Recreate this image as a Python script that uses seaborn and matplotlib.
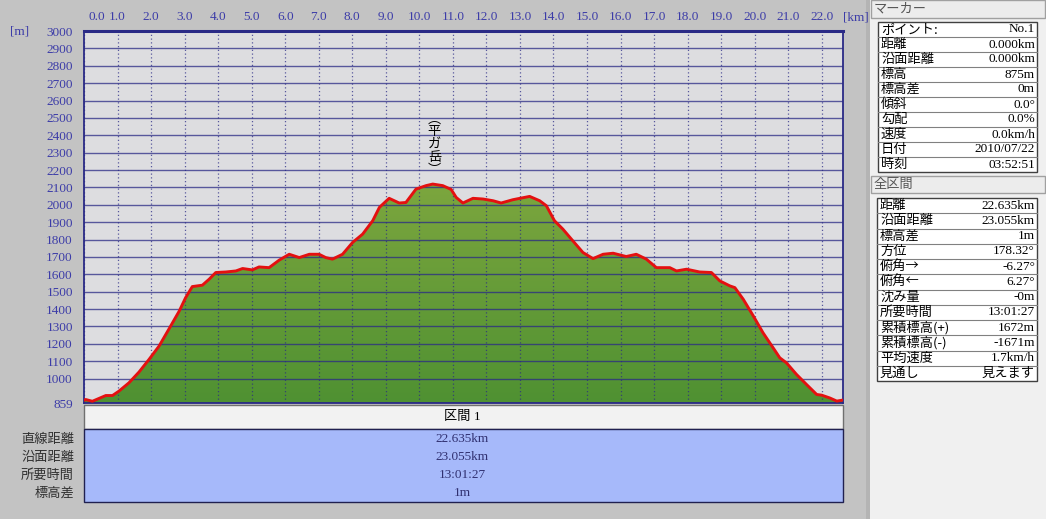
import numpy as np
import matplotlib
matplotlib.use("Agg")
import matplotlib.pyplot as plt
import seaborn as sns
from matplotlib.colors import LinearSegmentedColormap
from matplotlib.patches import Polygon, Rectangle
from matplotlib.transforms import ScaledTranslation

# elevation profile (km, m)
km = [0.0, 0.05, 0.25, 0.65, 0.85, 1.04, 1.34, 1.64, 1.94, 2.24, 2.54, 2.84, 3.03, 3.23,
      3.53, 3.73, 3.93, 4.23, 4.53, 4.73, 5.02, 5.22, 5.52, 5.82, 6.12, 6.42, 6.72, 7.01,
      7.21, 7.41, 7.71, 8.01, 8.31, 8.61, 8.81, 9.10, 9.40, 9.60, 9.90, 10.20, 10.40,
      10.70, 10.95, 11.10, 11.30, 11.60, 11.90, 12.20, 12.44, 12.79, 13.29, 13.59, 13.79,
      14.03, 14.28, 14.58, 14.88, 15.18, 15.48, 15.78, 16.17, 16.47, 16.77, 17.07, 17.47,
      17.67, 17.97, 18.36, 18.71, 18.96, 19.26, 19.41, 19.66, 19.96, 20.25, 20.55, 20.75,
      20.95, 21.25, 21.55, 21.85, 22.00, 22.24, 22.45, 22.635]
elev = [875, 879, 869, 902, 902, 927, 975, 1037, 1110, 1187, 1287, 1388, 1465, 1529,
        1537, 1571, 1610, 1613, 1619, 1633, 1625, 1642, 1638, 1681, 1715, 1696, 1715, 1715,
        1696, 1687, 1715, 1783, 1831, 1908, 1985, 2037, 2010, 2013, 2090, 2110, 2119,
        2110, 2088, 2042, 2010, 2037, 2033, 2023, 2010, 2029, 2048, 2023, 1994,
        1908, 1860, 1792, 1725, 1690, 1715, 1721, 1702, 1715, 1687, 1638, 1638,
        1619, 1629, 1613, 1610, 1562, 1533, 1523, 1456, 1360, 1263, 1177, 1119,
        1090, 1023, 965, 908, 904, 888, 870, 876]

x_ticks = list(range(0, 23))
y_ticks = [859] + list(range(1000, 3001, 100))
y_min, y_max = 859, 3000
peak_name = "︵\n平\nガ\n岳\n︶"

marker_labels = ["ポイント:", "距離", "沿面距離", "標高", "標高差", "傾斜", "勾配", "速度", "日付", "時刻"]
marker_values = ["No.1", "0.000km", "0.000km", "875m", "0m", "0.0°", "0.0%", "0.0km/h",
                 "2010/07/22", "03:52:51"]
total_labels = ["距離", "沿面距離", "標高差", "方位", "俯角→", "俯角←", "沈み量", "所要時間",
                "累積標高(+)", "累積標高(-)", "平均速度", "見通し"]
total_values = ["22.635km", "23.055km", "1m", "178.32°", "-6.27°", "6.27°", "-0m", "13:01:27",
                "1672m", "-1671m", "1.7km/h", "見えます"]
section_title = "区間 1"
section_labels = ["直線距離", "沿面距離", "所要時間", "標高差"]
section_values = ["22.635km", "23.055km", "13:01:27", "1m"]

plt.rcParams['font.family'] = ['Noto Sans CJK JP', 'DejaVu Sans']
NUM = ['Liberation Serif', 'Noto Sans CJK JP']
TICK_C = '#3c3ca8'
NAVY = '#2a2a86'

W, H = 1046, 519
fig = plt.figure(figsize=(W / 100, H / 100), dpi=100)
fig.patch.set_facecolor('#c3c3c3')

def px_box(l, t, r, b):
    return [l / W, 1 - b / H, (r - l) / W, (b - t) / H]

# overlay in pixel coordinates for the panels (drawn underneath)
ov = fig.add_axes([0, 0, 1, 1])
ov.set_xlim(0, W)
ov.set_ylim(H, 0)
ov.axis('off')

ax = fig.add_axes(px_box(84, 31, 843, 403))
ax.set_facecolor('#dddde0')

# green gradient area under the profile
verts = list(zip(km, elev)) + [(km[-1], y_min), (km[0], y_min)]
clip = Polygon(verts, closed=True, fc='none', ec='none', transform=ax.transData)
ax.add_patch(clip)
cmap = LinearSegmentedColormap.from_list('g', ['#4f9132', '#7ca63e'])
img = ax.imshow(np.linspace(0, 1, 256).reshape(-1, 1), cmap=cmap, aspect='auto',
                origin='lower', extent=[km[0], km[-1], y_min, max(elev)], zorder=1)
img.set_clip_path(clip)

sns.lineplot(x=km, y=elev, ax=ax, color='#e41010', linewidth=2.1, sort=False, zorder=4)

ax.set_xlim(km[0], km[-1])
ax.set_ylim(y_min, y_max)
ax.set_xlabel("")
ax.set_ylabel("")
ax.xaxis.tick_top()
ax.set_xticks(x_ticks)
ax.set_xticklabels([f"{v:.1f}" for v in x_ticks])
ax.set_yticks(y_ticks)
ax.set_yticklabels([str(v) for v in y_ticks])
ax.tick_params(length=0, colors=TICK_C, labelsize=9.5)
ax.tick_params(axis='x', pad=6)
ax.tick_params(axis='y', pad=8)
for lab in ax.get_xticklabels() + ax.get_yticklabels():
    lab.set_family(NUM)
first = ax.get_xticklabels()[0]
first.set_transform(first.get_transform() + ScaledTranslation(0.13, 0, fig.dpi_scale_trans))

ax.set_axisbelow(False)
ax.grid(axis='y', color=NAVY, linestyle='-', linewidth=1.0, alpha=0.75)
ax.grid(axis='x', color=NAVY, linestyle=(0, (1, 2)), linewidth=0.9, alpha=0.75)
for s in ax.spines.values():
    s.set_color(NAVY)
    s.set_linewidth(1.3)
ax.spines['top'].set_linewidth(2.2)

imax = int(np.argmax(elev))
ax.text(km[imax] + 0.05, elev[imax] + 228, peak_name, ha='center', va='center', fontsize=9.5,
        linespacing=0.98, color='black', zorder=5)

ov.text(10, 32, "[m]", color=TICK_C, fontsize=9.5, family=NUM, va='center')
ov.text(843, 17, "[km]", color=TICK_C, fontsize=9.5, family=NUM, va='center')

# bottom section
ov.add_patch(Rectangle((84, 405), 759, 24, fc='#f2f2f2', ec='#707070', lw=1))
ov.text(462, 417, section_title, ha='center', va='center', fontsize=9.5, family=NUM)
ov.add_patch(Rectangle((84, 429), 759, 73, fc='#a6b9fa', ec='#202050', lw=1))
for i, (lab, val) in enumerate(zip(section_labels, section_values)):
    y = 439 + i * 18
    ov.text(74, y, lab, ha='right', va='center', fontsize=9.5, color='#303030')
    ov.text(462, y, val, ha='center', va='center', fontsize=9.5, family=NUM, color='#303070')

# right side panel
ov.add_patch(Rectangle((866, 0), 4, H, fc='#b4b4b4', ec='none'))
ov.add_patch(Rectangle((870, 0), W - 870, H, fc='#f0f0f0', ec='none'))

def header(y0, y1, text):
    ov.add_patch(Rectangle((871, y0), W - 872, y1 - y0, fc='#ececec', ec='#a0a0a0', lw=1))
    ov.text(874, (y0 + y1) / 2, text, ha='left', va='center', fontsize=9.5, color='#555555')

def table(x0, x1, y0, y1, labels, values):
    n = len(labels)
    h = (y1 - y0) / n
    ov.add_patch(Rectangle((x0, y0), x1 - x0, y1 - y0, fc='white', ec='#404040', lw=1))
    for i, (lab, val) in enumerate(zip(labels, values)):
        yc = y0 + (i + 0.5) * h
        if i > 0:
            ov.plot([x0, x1], [y0 + i * h] * 2, color='#808080', lw=0.8)
        ov.text(x0 + 3, yc, lab, ha='left', va='center', fontsize=9.5, color='black')
        ov.text(x1 - 2, yc, val, ha='right', va='center', fontsize=9.5, family=NUM, color='black')

header(0, 18, "マーカー")
table(878, 1037, 22, 172, marker_labels, marker_values)
header(176, 193, "全区間")
table(877, 1037, 198, 381, total_labels, total_values)

fig.savefig("out.png", dpi=100, facecolor=fig.get_facecolor())
